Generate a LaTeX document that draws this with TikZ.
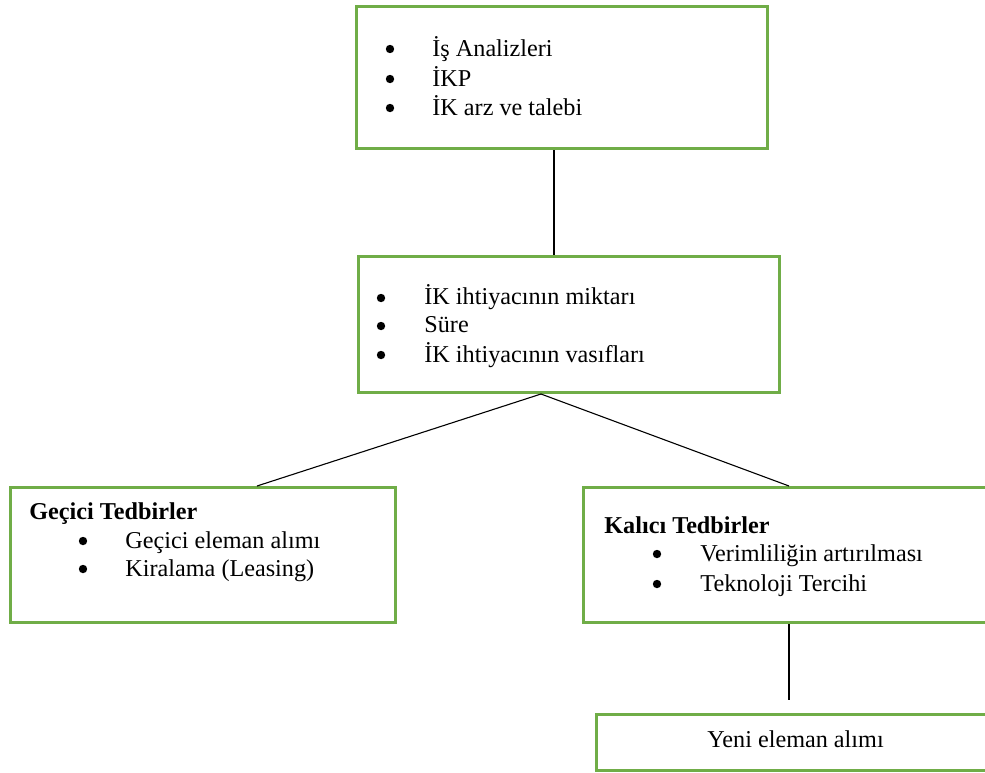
\documentclass[tikz,border=0pt]{standalone}
\usepackage{fontspec}
\setmainfont{Liberation Serif}
\definecolor{boxgreen}{RGB}{112,173,71}
\begin{document}
\begin{tikzpicture}[x=0.5pt,y=-0.5pt,
  box/.style={draw=boxgreen,line width=1.5pt,rectangle,inner sep=0pt,anchor=north west},
  txt/.style={anchor=base west,inner sep=0pt,font=\fontsize{12.1}{14}\selectfont},
  bul/.style={circle,fill=black,inner sep=0pt,minimum size=4.2pt},
  conn/.style={draw=black,line width=0.55pt}]
\useasboundingbox (0,0) rectangle (985,772);
% boxes
\node[box,minimum width=205.5pt,minimum height=71pt] (top) at (355,5) {};
\node[box,minimum width=210.5pt,minimum height=68pt] (mid) at (357,255) {};
\node[box,minimum width=192.5pt,minimum height=67.5pt] (left) at (9,486) {};
\node[box,minimum width=215pt,minimum height=67.5pt] (right) at (582,486) {};
\node[box,minimum width=210pt,minimum height=28pt] (yeni) at (595,713) {};
% top texts
\node[bul] (tb1) at (390,49) {};
\node[txt] (tt1) at (432,56) {İş Analizleri};
\node[bul] (tb2) at (390,79) {};
\node[txt] (tt2) at (432,86) {İKP};
\node[bul] (tb3) at (390,108) {};
\node[txt] (tt3) at (432,115) {İK arz ve talebi};
% middle texts
\node[bul] (mb1) at (381,298) {};
\node[txt] (mt1) at (424,304) {İK ihtiyacının miktarı};
\node[bul] (mb2) at (381,326) {};
\node[txt] (mt2) at (424,332) {Süre};
\node[bul] (mb3) at (381,355) {};
\node[txt] (mt3) at (424,362) {İK ihtiyacının vasıfları};
% left texts
\node[txt,font=\fontsize{12.1}{14}\selectfont\bfseries] (lh) at (29,519) {Geçici Tedbirler};
\node[bul] (lb1) at (83,541) {};
\node[txt] (lt1) at (125,548) {Geçici eleman alımı};
\node[bul] (lb2) at (83,569) {};
\node[txt] (lt2) at (125,576) {Kiralama (Leasing)};
% right texts
\node[txt,font=\fontsize{12.1}{14}\selectfont\bfseries] (rh) at (604,533) {Kalıcı Tedbirler};
\node[bul] (rb1) at (657,554) {};
\node[txt] (rt1) at (700,561) {Verimliliğin artırılması};
\node[bul] (rb2) at (657,584) {};
\node[txt] (rt2) at (700,591) {Teknoloji Tercihi};
% yeni text
\node[txt] (yt) at (707,747) {Yeni eleman alımı};
% connectors
\draw[conn] (top.south -| 554,0) -- (mid.north -| 554,0);
\draw[conn] (mid.south -| 541,0) -- (left.north -| 257,0);
\draw[conn] (mid.south -| 541,0) -- (right.north -| 789,0);
\coordinate (yend) at (789,700);
\draw[conn] (right.south -| 789,0) -- (yend);
\end{tikzpicture}
\end{document}
